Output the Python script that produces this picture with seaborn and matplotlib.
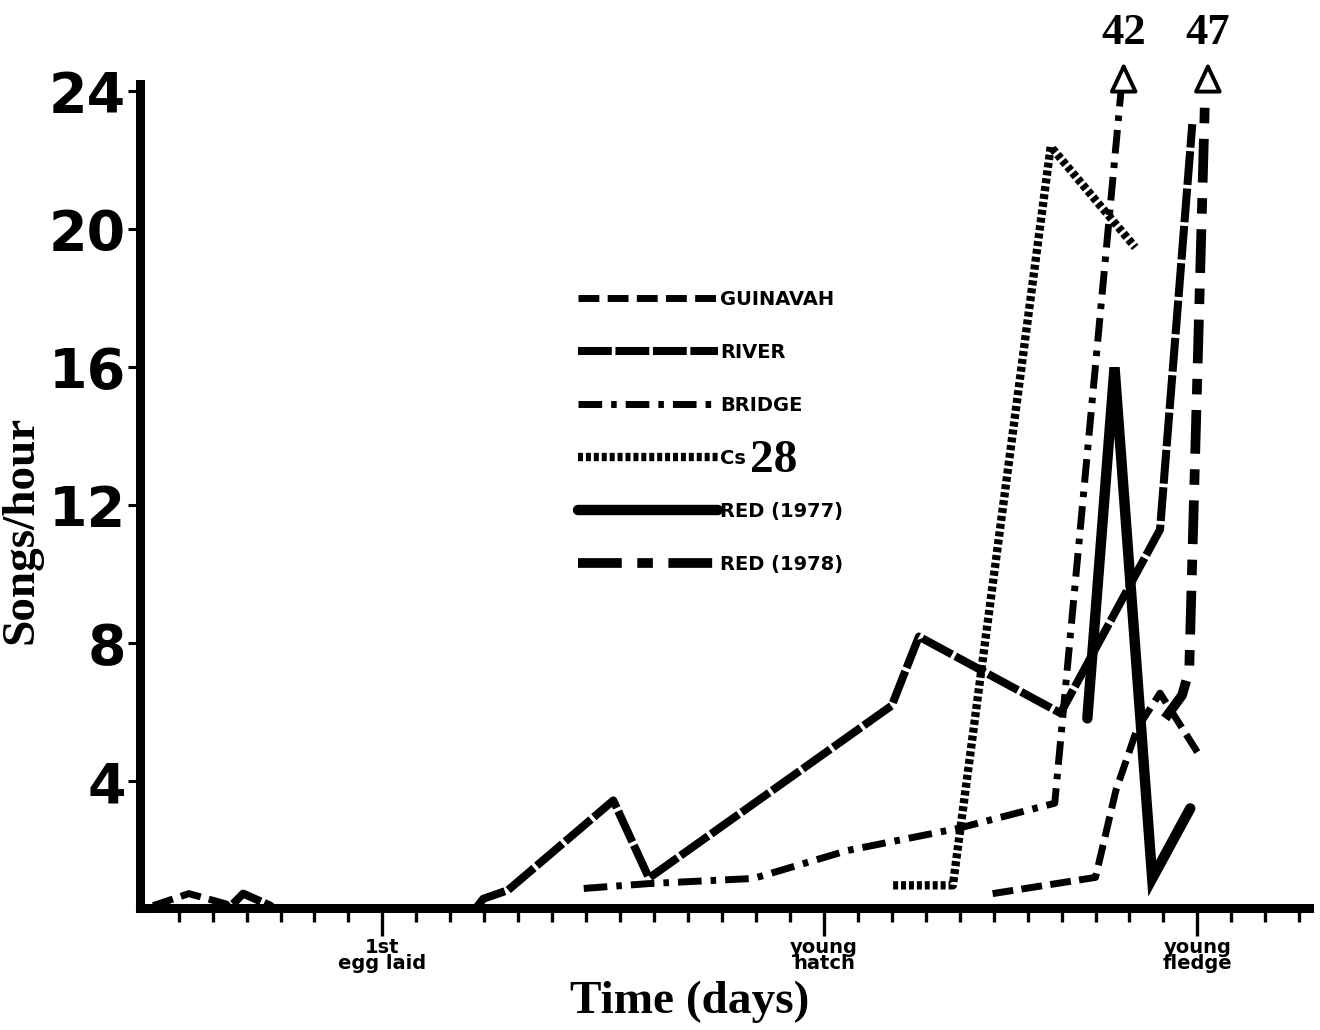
import matplotlib
matplotlib.use("Agg")
import matplotlib.pyplot as plt
from matplotlib.lines import Line2D
import pandas as pd
import seaborn as sns

# day 0 = first egg laid (songs per hour)
guinavahDays = [-6.75, -5.7, -4.6, -4.2, 17.97, 21.0, 21.6, 22.23, 22.9, 24.0]
guinavahSongs = [0.4, 0.75, 0.45, 0.0, 0.75, 1.22, 3.74, 5.54, 6.56, 4.85]
guinavahPart = [1, 1, 1, 1, 2, 2, 2, 2, 2, 2]

riverDays = [-4.4, -4.1, -3.3, -2.9, 2.5, 2.97, 3.7, 6.8, 7.85, 15.0, 15.8, 19.97, 22.9, 23.85]
riverSongs = [0.45, 0.75, 0.4, 0.0, 0.0, 0.6, 0.85, 3.45, 1.2, 6.2, 8.2, 5.98, 11.3, 23.05]

bridgeDays = [5.93, 7.84, 10.93, 13.7, 16.95, 19.8, 21.75]
bridgeSongs = [0.9, 1.04, 1.19, 2.0, 2.64, 3.37, 24.0]

cs28Days = [15.04, 16.8, 19.68, 22.17]
cs28Songs = [0.99, 0.99, 22.4, 19.48]

red77Days = [20.76, 21.56, 22.67, 23.79]
red77Songs = [5.83, 16.0, 1.19, 3.22]

red78Days = [23.05, 23.55, 23.76, 24.23]
red78Songs = [5.83, 6.5, 7.23, 24.0]

birdNames = ["GUINAVAH", "RIVER", "BRIDGE", "Cs", "RED (1977)", "RED (1978)"]
offChartPeaks = {"BRIDGE": 42, "RED (1978)": 47}

yTicks = [4, 8, 12, 16, 20, 24]
stageDays = [0, 13, 24]
stageLabels = ["1st\negg laid", "young\nhatch", "young\nfledge"]

lineWidths = {"GUINAVAH": 5.0, "RIVER": 5.8, "BRIDGE": 5.0, "Cs": 6.0,
              "RED (1977)": 7.5, "RED (1978)": 7.0}
dashStyles = {"GUINAVAH": (3.0, 1.2), "RIVER": (4.2, 0.45), "BRIDGE": (3.4, 1.3, 0.8, 1.3),
              "Cs": (0.6, 0.35), "RED (1977)": "", "RED (1978)": (4.5, 1.6, 1.6, 1.6)}


def buildFrame() -> pd.DataFrame:
    parts = [
        pd.DataFrame({"day": guinavahDays, "songs": guinavahSongs, "bird": "GUINAVAH",
                      "part": ["GUINAVAH-%d" % p for p in guinavahPart]}),
        pd.DataFrame({"day": riverDays, "songs": riverSongs, "bird": "RIVER", "part": "RIVER"}),
        pd.DataFrame({"day": bridgeDays, "songs": bridgeSongs, "bird": "BRIDGE", "part": "BRIDGE"}),
        pd.DataFrame({"day": cs28Days, "songs": cs28Songs, "bird": "Cs", "part": "Cs"}),
        pd.DataFrame({"day": red77Days, "songs": red77Songs, "bird": "RED (1977)", "part": "RED77"}),
        pd.DataFrame({"day": red78Days, "songs": red78Songs, "bird": "RED (1978)", "part": "RED78"}),
    ]
    return pd.concat(parts, ignore_index=True)


sns.set_style("white")
plt.rcParams["font.family"] = ["DejaVu Sans"]
for key in ["text.color", "axes.labelcolor", "xtick.color", "ytick.color", "axes.edgecolor"]:
    plt.rcParams[key] = "black"

songFrame = buildFrame()

fig = plt.figure(figsize=(13.2, 10.3), dpi=100)
ax = fig.add_axes([0.106, 0.118, 0.886, 0.8])

sns.lineplot(
    data=songFrame, x="day", y="songs",
    hue="bird", style="bird", size="bird", units="part", estimator=None,
    palette={b: "black" for b in birdNames},
    dashes=dashStyles, sizes=lineWidths,
    hue_order=birdNames, style_order=birdNames, size_order=birdNames,
    legend=False, ax=ax,
)
for line in ax.get_lines():
    line.set_dash_capstyle("butt")
    line.set_solid_joinstyle("miter")

ax.set_xlim(-7.14, 27.3)
ax.set_ylim(0.32, 24.2)

for side in ["top", "right"]:
    ax.spines[side].set_visible(False)
for side in ["left", "bottom"]:
    ax.spines[side].set_linewidth(6.5)
    ax.spines[side].set_color("black")

ax.set_yticks(yTicks)
ax.set_yticklabels([str(v) for v in yTicks], fontsize=40, fontweight="bold")
ax.tick_params(axis="y", left=True, direction="out", length=9, width=2.2, pad=1)

ax.set_xticks(range(-6, 28), minor=True)
ax.set_xticks(stageDays)
ax.set_xticklabels(stageLabels, fontsize=14, fontweight="bold", linespacing=0.85)
ax.tick_params(axis="x", which="both", bottom=True)
ax.tick_params(axis="x", which="minor", direction="out", length=10, width=2.4)
ax.tick_params(axis="x", which="major", direction="out", length=20, width=2.4, pad=1)

ax.set_ylabel("Songs/hour", fontsize=34, fontweight="bold", family="Liberation Serif")
ax.yaxis.set_label_coords(-0.083, 0.46)
ax.set_xlabel("Time (days)", fontsize=34, fontweight="bold", family="Liberation Serif")
ax.xaxis.set_label_coords(0.47, -0.088)

# peaks beyond the axis: open arrow with the true value
for birdName, peakValue in offChartPeaks.items():
    rows = songFrame[songFrame["bird"] == birdName]
    xEnd, yEnd = rows["day"].iloc[-1], rows["songs"].iloc[-1]
    ax.annotate("", xy=(xEnd + 0.08, 24.85), xytext=(xEnd + 0.08, yEnd),
                arrowprops=dict(arrowstyle="-|>,head_length=1.8,head_width=0.85",
                                fc="white", ec="black", lw=2.8, shrinkA=0, shrinkB=0),
                annotation_clip=False)
    ax.text(xEnd + 0.08, 25.1, str(peakValue), ha="center", va="bottom",
            fontsize=32, fontweight="bold", family="Liberation Serif", clip_on=False)

handles = []
for birdName in birdNames:
    dash = dashStyles[birdName]
    if dash == "":
        handle = Line2D([], [], color="black", lw=lineWidths[birdName], linestyle="-")
    else:
        handle = Line2D([], [], color="black", lw=lineWidths[birdName], linestyle=(0, dash),
                        dash_capstyle="butt")
    handles.append(handle)

legendObject = ax.legend(handles, birdNames, loc="upper left", bbox_to_anchor=(0.3745, 0.751),
                         frameon=False, handlelength=7.2, handletextpad=0.1, labelspacing=1.75,
                         borderpad=0, borderaxespad=0, prop=dict(weight="bold", size=14))
csText = legendObject.get_texts()[3]
fig.canvas.draw()
ax.annotate("28", xy=(1, 0.35), xycoords=csText, xytext=(3, 0), textcoords="offset points",
            ha="left", va="center", fontsize=34, fontweight="bold", family="Liberation Serif",
            zorder=10)

fig.savefig("out.png", dpi=100, facecolor="white")
